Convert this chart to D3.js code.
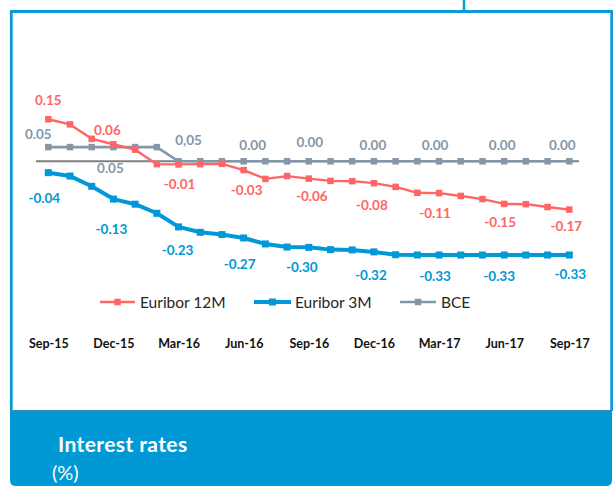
<!DOCTYPE html>
<html>
<head>
<meta charset="utf-8">
<script src="https://cdn.jsdelivr.net/npm/d3@7"></script>
<style>
  html, body { margin: 0; padding: 0; background: #fff; }
  svg { display: block; }
  text { font-family: Lato, "Open Sans", sans-serif; }
</style>
</head>
<body>
<svg id="chart" width="613" height="486"></svg>
<script>
// ---- data ----
const months = ["Sep-15","Oct-15","Nov-15","Dec-15","Jan-16","Feb-16","Mar-16","Apr-16","May-16",
  "Jun-16","Jul-16","Aug-16","Sep-16","Oct-16","Nov-16","Dec-16","Jan-17","Feb-17","Mar-17",
  "Apr-17","May-17","Jun-17","Jul-17","Aug-17","Sep-17"];
const tickLabels = ["Sep-15","Dec-15","Mar-16","Jun-16","Sep-16","Dec-16","Mar-17","Jun-17","Sep-17"];
const euribor12M = [0.148, 0.130, 0.079, 0.060, 0.041, -0.010, -0.011, -0.010, -0.009,
  -0.031, -0.062, -0.052, -0.061, -0.069, -0.070, -0.077, -0.090, -0.111, -0.112,
  -0.122, -0.133, -0.150, -0.151, -0.161, -0.170];
const euribor3M = [-0.040, -0.052, -0.088, -0.133, -0.151, -0.183, -0.231, -0.250, -0.258,
  -0.270, -0.291, -0.302, -0.303, -0.311, -0.312, -0.319, -0.329, -0.330, -0.330,
  -0.330, -0.330, -0.330, -0.330, -0.330, -0.330];
const bce = [0.05, 0.05, 0.05, 0.05, 0.05, 0.05, 0, 0, 0, 0, 0, 0, 0, 0, 0, 0, 0, 0, 0,
  0, 0, 0, 0, 0, 0];
const labelIdx = [0, 3, 6, 9, 12, 15, 18, 21, 24];
const bceLabels = ["0.05", "0.05", "0,05", "0.00", "0.00", "0.00", "0.00", "0.00", "0.00"];
const seriesNames = ["Euribor 12M", "Euribor 3M", "BCE"];
const title = "Interest rates";
const unit = "(%)";

// ---- layout ----
const svg = d3.select("#chart");
const x = d3.scalePoint().domain(months).range([48.3, 569.3]);
const y = d3.scaleLinear().domain([-0.4, 0.2]).range([274.9, 104.5]);
const fmt = d3.formatLocale({ decimal: ".", thousands: ",", grouping: [3],
  currency: ["", ""], minus: "-" }).format(".2f");

const colors = { red: "#FF6565", blue: "#0098D6", gray: "#8497A8", frame: "#0A9BD7" };

// frame
svg.append("line").attr("x1", 464).attr("x2", 464).attr("y1", 0).attr("y2", 12)
  .attr("stroke", colors.frame).attr("stroke-width", 2.5);
svg.append("path").attr("d", "M11.3,411 V11.5 H611.7 V411")
  .attr("fill", "none").attr("stroke", colors.frame).attr("stroke-width", 2.8);

// bottom panel
svg.append("path")
  .attr("d", "M10,410 H612 V480 Q612,486 606,486 H16 Q10,486 10,480 Z")
  .attr("fill", "#0099D5");
svg.append("line").attr("x1", 10).attr("x2", 612).attr("y1", 410.5).attr("y2", 410.5)
  .attr("stroke", "#3F86BE").attr("stroke-width", 1);
svg.append("text").attr("x", 58).attr("y", 443).attr("dominant-baseline", "central")
  .attr("fill", "#fff").attr("font-weight", "bold").attr("font-size", 21)
  .attr("letter-spacing", 0.4).text(title);
svg.append("text").attr("x", 52).attr("y", 472).attr("dominant-baseline", "central")
  .attr("fill", "#fff").attr("font-size", 20).text(unit);

// zero axis
svg.append("line").attr("x1", 36).attr("x2", 579).attr("y1", y(0)).attr("y2", y(0))
  .attr("stroke", "#7F7F7F").attr("stroke-width", 2);

// x axis labels via d3 axis
const xAxis = d3.axisBottom(x).tickValues(tickLabels).tickSize(0).tickPadding(0);
const gx = svg.append("g").attr("transform", "translate(0,339)").call(xAxis);
gx.select(".domain").remove();
gx.selectAll("text").attr("font-family", "Lato, sans-serif").attr("font-size", 12.5)
  .attr("font-weight", "bold").attr("fill", "#111");

// series
const line = d3.line().x((d, i) => x(months[i])).y(d => y(d));
function drawSeries(vals, color, width, msize) {
  const g = svg.append("g");
  g.append("path").datum(vals).attr("d", line).attr("fill", "none")
    .attr("stroke", color).attr("stroke-width", width).attr("stroke-linejoin", "round");
  g.selectAll("rect").data(vals).join("rect")
    .attr("x", (d, i) => x(months[i]) - msize / 2).attr("y", d => y(d) - msize / 2)
    .attr("width", msize).attr("height", msize).attr("fill", color);
}
drawSeries(bce, colors.gray, 2.6, 6.5);
drawSeries(euribor12M, colors.red, 2.4, 6.5);
drawSeries(euribor3M, colors.blue, 4, 7);

// data labels
function label(xp, yp, txt, color) {
  svg.append("text").attr("x", xp).attr("y", yp).attr("text-anchor", "middle")
    .attr("dominant-baseline", "central").attr("font-size", 13.5).attr("font-weight", "bold")
    .attr("fill", color).text(txt);
}
const redOff = [[0,-19],[-6,-14],[1,20],[3,20],[3,17],[-2,22],[-4,20],[-4,18],[-3,16]];
const blueOff = [[-4,25],[-2,30],[-1,23],[-4,26],[-7,20],[-3,23],[-4,21],[-5,21],[1,19]];
const grayOff = [[-10,-13],[-3,21],[10,-21],[9,-16],[1,-19],[-1,-16],[-4,-16],[-2,-16],[-7,-16]];
labelIdx.forEach((i, k) => {
  const xp = x(months[i]);
  label(xp + redOff[k][0], y(euribor12M[i]) + redOff[k][1], fmt(euribor12M[i]), colors.red);
  label(xp + blueOff[k][0], y(euribor3M[i]) + blueOff[k][1], fmt(euribor3M[i]), colors.blue);
  label(xp + grayOff[k][0], y(bce[i]) + grayOff[k][1], bceLabels[k], colors.gray);
});

// legend
const legend = [
  { name: seriesNames[0], color: colors.red, w: 2.4, x0: 100, x1: 135, tx: 140, ms: 6.5 },
  { name: seriesNames[1], color: colors.blue, w: 4, x0: 254, x1: 291, tx: 295, ms: 7 },
  { name: seriesNames[2], color: colors.gray, w: 2.6, x0: 400, x1: 436, tx: 441, ms: 6.5 }
];
const ly = 302;
const lg = svg.append("g").selectAll("g").data(legend).join("g");
lg.append("line").attr("x1", d => d.x0).attr("x2", d => d.x1).attr("y1", ly).attr("y2", ly)
  .attr("stroke", d => d.color).attr("stroke-width", d => d.w);
lg.append("rect").attr("x", d => (d.x0 + d.x1) / 2 - d.ms / 2).attr("y", d => ly - d.ms / 2)
  .attr("width", d => d.ms).attr("height", d => d.ms).attr("fill", d => d.color);
lg.append("text").attr("x", d => d.tx).attr("y", ly).attr("dominant-baseline", "central")
  .attr("font-size", 15.5).attr("fill", "#262626").text(d => d.name);
</script>
</body>
</html>
